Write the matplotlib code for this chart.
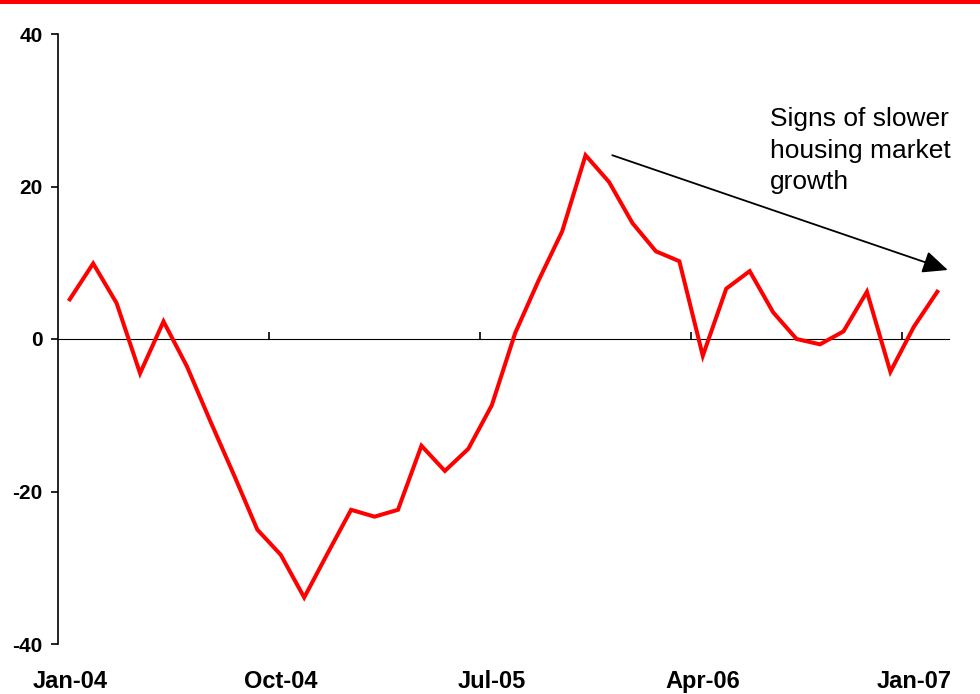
import matplotlib
matplotlib.use("Agg")
import matplotlib.pyplot as plt
from matplotlib.patches import Rectangle
import numpy as np

plt.rcParams['font.family'] = ['Liberation Sans', 'DejaVu Sans']

# Monthly values, Jan-04 .. Feb-07 (38 months)
values = [5.2, 9.9, 4.7, -4.5, 2.3, -3.6, -10.8, -17.8, -25.0, -28.3,
          -33.9, -28.1, -22.4, -23.3, -22.4, -14.0, -17.3, -14.4, -8.7, 0.8,
          7.7, 14.1, 24.1, 20.6, 15.2, 11.5, 10.2, -2.2, 6.6, 8.9,
          3.5, 0.0, -0.7, 1.0, 6.2, -4.3, 1.6, 6.2]
label_idx = [0, 9, 18, 27, 36]
tick_labels = ['Jan-04', 'Oct-04', 'Jul-05', 'Apr-06', 'Jan-07']
yticks = [-40, -20, 0, 20, 40]
annotation = "Signs of slower\nhousing market\ngrowth"

W, H = 980, 694
fig = plt.figure(figsize=(W / 100, H / 100), dpi=100)
ax = fig.add_axes([58 / W, 1 - 644 / H, (949 - 58) / W, (644 - 34) / H])

x = np.arange(len(values))
ax.plot(x, values, color='#ff0000', lw=2.9, solid_joinstyle='miter', clip_on=False)

ax.set_xlim(-0.5, len(values) - 0.5)
ax.set_ylim(-40, 40)

# y axis
ax.set_yticks(yticks)
ax.set_yticklabels([str(v) for v in yticks], fontsize=15, fontweight='bold')
ax.tick_params(axis='y', direction='out', length=5, width=1.2, pad=6)
ax.spines['left'].set_linewidth(1.2)
ax.spines['top'].set_visible(False)
ax.spines['right'].set_visible(False)
ax.spines['bottom'].set_visible(False)

# x labels at the bottom (no tick marks)
ax.set_xticks(label_idx)
ax.set_xticklabels(tick_labels, fontsize=17, fontweight='bold')
ax.tick_params(axis='x', length=0, pad=19)

# zero axis line with tick marks between categories
sec = ax.secondary_xaxis(0.5)
sec.set_xticks([i - 0.5 for i in label_idx[1:]])
sec.set_xticklabels([])
sec.tick_params(axis='x', direction='out', length=5, width=1.2)
sec.spines['bottom'].set_linewidth(1.2)

# annotation
ax.text((770 - 58) / 891, (644 - 107) / 610, annotation, transform=ax.transAxes,
        fontsize=19, va='top', ha='left', linespacing=1.4)
ax.annotate('', xy=(37.45, 9.05), xytext=(23.14, 24.1),
            arrowprops=dict(arrowstyle='-|>,head_length=0.85,head_width=0.38',
                            mutation_scale=18, color='black', lw=1.3,
                            shrinkA=0, shrinkB=0),
            annotation_clip=False)

# red band at the top
fig.add_artist(Rectangle((0, 1 - 4 / H), 1, 4 / H, transform=fig.transFigure,
                         color='#ff0000', lw=0))

fig.savefig('out.png', dpi=100)
